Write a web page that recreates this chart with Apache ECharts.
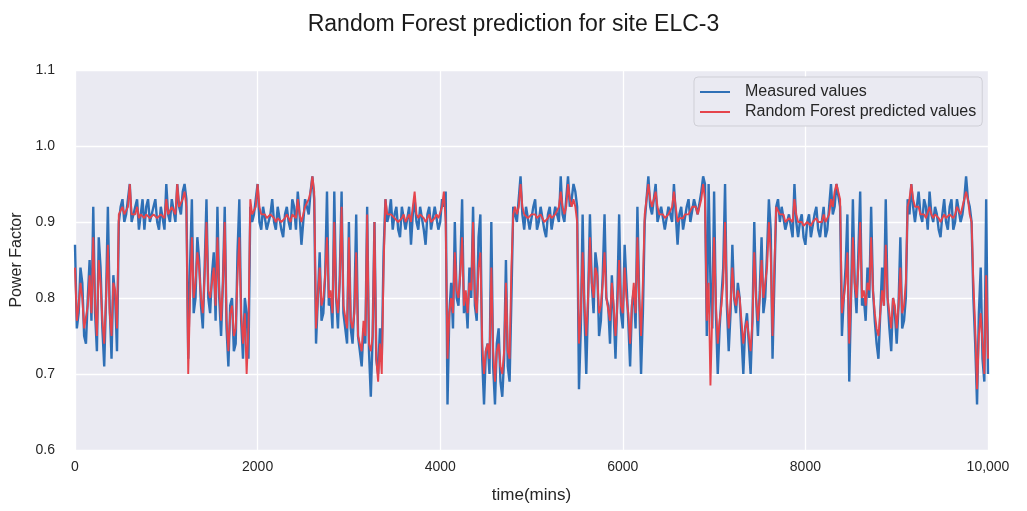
<!DOCTYPE html>
<html>
<head>
<meta charset="utf-8">
<script src="https://cdn.jsdelivr.net/npm/echarts@6/dist/echarts.min.js"></script>
<style>
  html, body { margin: 0; padding: 0; background: #fff; }
  #chart { width: 1027px; height: 511px; }
</style>
</head>
<body>
<div id="chart"></div>
<script>
// one reading every 20 minutes, 0 .. 10000 (one line per low / high stretch)
var timeStep = 20;

var measuredValues = [
  0.87, 0.76, 0.78, 0.84, 0.82, 0.75, 0.74, 0.80, 0.85, 0.77, 0.92, 0.78, 0.73, 0.88, 0.84, 0.76, 0.71, 0.80, 0.92, 0.79, 0.72, 0.83, 0.80, 0.73,
  0.90, 0.92, 0.93, 0.90, 0.91, 0.93, 0.95, 0.90, 0.90, 0.92, 0.93, 0.89, 0.91, 0.93, 0.89, 0.92, 0.93, 0.90, 0.90, 0.92, 0.93, 0.90, 0.89, 0.92, 0.92, 0.89, 0.95, 0.91, 0.90, 0.93, 0.93, 0.90, 0.95, 0.92, 0.91, 0.94, 0.95, 0.93,
  0.72, 0.84, 0.93, 0.78, 0.80, 0.88, 0.85, 0.79, 0.76, 0.84, 0.93, 0.80, 0.78, 0.83, 0.86, 0.77, 0.92, 0.80, 0.75, 0.82, 0.92, 0.76, 0.71, 0.79, 0.80, 0.73, 0.74, 0.86, 0.93, 0.77, 0.72, 0.80, 0.78, 0.72,
  0.92, 0.90, 0.91, 0.93, 0.95, 0.90, 0.89, 0.92, 0.92, 0.89, 0.89, 0.91, 0.93, 0.90, 0.89, 0.92, 0.92, 0.89, 0.88, 0.91, 0.92, 0.90, 0.89, 0.93, 0.92, 0.89, 0.94, 0.91, 0.87, 0.90, 0.93, 0.92, 0.91, 0.94, 0.96, 0.93,
  0.74, 0.80, 0.86, 0.77, 0.78, 0.83, 0.94, 0.79, 0.80, 0.76, 0.94, 0.80, 0.76, 0.83, 0.94, 0.78, 0.78, 0.74, 0.90, 0.76, 0.74, 0.79, 0.91, 0.75, 0.73, 0.71, 0.76, 0.74, 0.92, 0.73, 0.67, 0.75, 0.90, 0.72, 0.70, 0.76, 0.72, 0.86,
  0.93, 0.90, 0.91, 0.93, 0.89, 0.91, 0.92, 0.89, 0.88, 0.92, 0.92, 0.89, 0.89, 0.92, 0.87, 0.91, 0.93, 0.90, 0.89, 0.92, 0.92, 0.89, 0.87, 0.91, 0.92, 0.89, 0.89, 0.92, 0.92, 0.89, 0.90, 0.93, 0.92, 0.94,
  0.66, 0.78, 0.82, 0.76, 0.90, 0.80, 0.79, 0.84, 0.93, 0.78, 0.80, 0.76, 0.84, 0.80, 0.92, 0.79, 0.77, 0.88, 0.91, 0.72, 0.66, 0.73, 0.74, 0.70, 0.90, 0.71, 0.66, 0.74, 0.76, 0.69, 0.67, 0.72, 0.85, 0.71, 0.69, 0.80,
  0.92, 0.91, 0.90, 0.93, 0.96, 0.91, 0.89, 0.92, 0.92, 0.89, 0.89, 0.92, 0.93, 0.89, 0.90, 0.92, 0.92, 0.89, 0.88, 0.91, 0.92, 0.89, 0.89, 0.92, 0.92, 0.90, 0.96, 0.91, 0.90, 0.93, 0.96, 0.92, 0.93, 0.95, 0.94, 0.92,
  0.68, 0.76, 0.91, 0.78, 0.70, 0.80, 0.91, 0.82, 0.78, 0.86, 0.84, 0.75, 0.77, 0.83, 0.91, 0.80, 0.79, 0.74, 0.83, 0.78, 0.72, 0.80, 0.91, 0.78, 0.76, 0.87, 0.82, 0.77, 0.71, 0.79, 0.81, 0.76, 0.92, 0.80, 0.70, 0.78,
  0.90, 0.93, 0.96, 0.92, 0.91, 0.93, 0.95, 0.90, 0.90, 0.92, 0.92, 0.89, 0.89, 0.92, 0.92, 0.90, 0.95, 0.91, 0.87, 0.91, 0.92, 0.89, 0.89, 0.92, 0.93, 0.90, 0.90, 0.93, 0.93, 0.91, 0.91, 0.94, 0.96, 0.95,
  0.75, 0.95, 0.82, 0.76, 0.94, 0.78, 0.70, 0.76, 0.80, 0.84, 0.95, 0.79, 0.73, 0.78, 0.87, 0.80, 0.78, 0.82, 0.80, 0.75, 0.70, 0.76, 0.78, 0.74, 0.70, 0.77, 0.90, 0.80, 0.75, 0.81, 0.88, 0.78, 0.80, 0.86, 0.93, 0.89, 0.72, 0.82,
  0.92, 0.93, 0.90, 0.92, 0.92, 0.89, 0.89, 0.91, 0.91, 0.88, 0.95, 0.90, 0.88, 0.90, 0.91, 0.88, 0.87, 0.90, 0.91, 0.88, 0.88, 0.91, 0.92, 0.89, 0.88, 0.90, 0.92, 0.88, 0.89, 0.92, 0.95, 0.91, 0.92, 0.95, 0.95, 0.92,
  0.75, 0.80, 0.84, 0.91, 0.69, 0.80, 0.93, 0.82, 0.78, 0.86, 0.94, 0.79, 0.80, 0.77, 0.84, 0.80, 0.92, 0.81, 0.77, 0.74, 0.72, 0.78, 0.84, 0.79, 0.93, 0.80, 0.76, 0.73, 0.80, 0.78, 0.74, 0.79, 0.88, 0.76, 0.77, 0.80,
  0.93, 0.91, 0.95, 0.92, 0.90, 0.92, 0.94, 0.91, 0.90, 0.93, 0.92, 0.89, 0.94, 0.91, 0.90, 0.92, 0.91, 0.89, 0.88, 0.91, 0.93, 0.90, 0.89, 0.92, 0.93, 0.89, 0.90, 0.93, 0.93, 0.90, 0.91, 0.93, 0.96, 0.93, 0.92, 0.90,
  0.80, 0.74, 0.66, 0.78, 0.84, 0.72, 0.69, 0.93, 0.70
];

var predictedValues = [
  0.84, 0.77, 0.79, 0.82, 0.80, 0.76, 0.76, 0.79, 0.83, 0.78, 0.88, 0.79, 0.75, 0.85, 0.82, 0.77, 0.74, 0.80, 0.87, 0.78, 0.75, 0.82, 0.81, 0.76,
  0.91, 0.91, 0.92, 0.91, 0.91, 0.92, 0.95, 0.91, 0.91, 0.91, 0.92, 0.905, 0.91, 0.91, 0.905, 0.91, 0.91, 0.905, 0.905, 0.91, 0.91, 0.905, 0.905, 0.91, 0.91, 0.905, 0.93, 0.91, 0.91, 0.92, 0.92, 0.91, 0.95, 0.92, 0.92, 0.93, 0.94, 0.92,
  0.70, 0.80, 0.88, 0.80, 0.82, 0.86, 0.84, 0.80, 0.78, 0.83, 0.90, 0.81, 0.80, 0.82, 0.84, 0.79, 0.88, 0.81, 0.77, 0.82, 0.90, 0.77, 0.73, 0.78, 0.79, 0.75, 0.76, 0.83, 0.88, 0.78, 0.74, 0.78, 0.70, 0.76,
  0.93, 0.91, 0.91, 0.92, 0.95, 0.92, 0.91, 0.91, 0.91, 0.905, 0.905, 0.91, 0.91, 0.905, 0.90, 0.905, 0.905, 0.90, 0.90, 0.905, 0.91, 0.905, 0.90, 0.91, 0.91, 0.905, 0.93, 0.91, 0.90, 0.91, 0.92, 0.92, 0.93, 0.94, 0.96, 0.94,
  0.76, 0.80, 0.84, 0.79, 0.80, 0.83, 0.88, 0.80, 0.81, 0.78, 0.90, 0.80, 0.78, 0.82, 0.92, 0.79, 0.79, 0.76, 0.88, 0.77, 0.76, 0.78, 0.86, 0.75, 0.74, 0.73, 0.77, 0.75, 0.91, 0.74, 0.73, 0.75, 0.90, 0.72, 0.69, 0.74, 0.70, 0.84,
  0.93, 0.91, 0.91, 0.91, 0.91, 0.905, 0.905, 0.90, 0.90, 0.905, 0.91, 0.90, 0.90, 0.91, 0.90, 0.92, 0.94, 0.91, 0.905, 0.91, 0.91, 0.905, 0.90, 0.905, 0.91, 0.90, 0.90, 0.905, 0.91, 0.905, 0.905, 0.92, 0.94, 0.90,
  0.72, 0.78, 0.80, 0.78, 0.86, 0.81, 0.80, 0.83, 0.88, 0.79, 0.81, 0.78, 0.82, 0.81, 0.90, 0.80, 0.78, 0.84, 0.86, 0.74, 0.70, 0.73, 0.74, 0.72, 0.84, 0.73, 0.69, 0.73, 0.74, 0.71, 0.70, 0.73, 0.82, 0.73, 0.72, 0.84,
  0.91, 0.92, 0.91, 0.92, 0.95, 0.92, 0.91, 0.91, 0.905, 0.905, 0.91, 0.91, 0.91, 0.905, 0.905, 0.91, 0.91, 0.90, 0.90, 0.905, 0.91, 0.905, 0.905, 0.91, 0.91, 0.92, 0.94, 0.92, 0.91, 0.92, 0.95, 0.93, 0.92, 0.93, 0.92, 0.90,
  0.74, 0.78, 0.86, 0.79, 0.75, 0.80, 0.88, 0.82, 0.80, 0.84, 0.83, 0.78, 0.79, 0.82, 0.86, 0.80, 0.80, 0.77, 0.82, 0.79, 0.75, 0.79, 0.85, 0.79, 0.78, 0.84, 0.80, 0.78, 0.74, 0.79, 0.82, 0.78, 0.88, 0.80, 0.75, 0.82,
  0.91, 0.93, 0.95, 0.93, 0.92, 0.92, 0.94, 0.92, 0.91, 0.91, 0.91, 0.905, 0.905, 0.91, 0.91, 0.92, 0.94, 0.92, 0.90, 0.905, 0.905, 0.905, 0.91, 0.91, 0.91, 0.91, 0.92, 0.92, 0.92, 0.91, 0.92, 0.93, 0.95, 0.93,
  0.77, 0.82, 0.685, 0.78, 0.88, 0.79, 0.74, 0.77, 0.79, 0.82, 0.90, 0.80, 0.76, 0.79, 0.84, 0.80, 0.79, 0.81, 0.80, 0.77, 0.74, 0.76, 0.77, 0.75, 0.73, 0.77, 0.86, 0.80, 0.77, 0.80, 0.85, 0.80, 0.80, 0.84, 0.90, 0.86, 0.75, 0.84,
  0.92, 0.92, 0.91, 0.91, 0.91, 0.90, 0.90, 0.905, 0.905, 0.90, 0.93, 0.91, 0.90, 0.90, 0.90, 0.895, 0.895, 0.90, 0.90, 0.895, 0.90, 0.90, 0.905, 0.90, 0.90, 0.90, 0.91, 0.90, 0.905, 0.91, 0.93, 0.92, 0.94, 0.95, 0.95, 0.93,
  0.78, 0.80, 0.82, 0.86, 0.74, 0.80, 0.88, 0.82, 0.80, 0.84, 0.90, 0.80, 0.81, 0.79, 0.82, 0.81, 0.88, 0.81, 0.78, 0.76, 0.75, 0.78, 0.81, 0.79, 0.87, 0.80, 0.78, 0.76, 0.80, 0.79, 0.76, 0.79, 0.84, 0.78, 0.79, 0.82,
  0.92, 0.93, 0.95, 0.93, 0.92, 0.92, 0.92, 0.91, 0.91, 0.91, 0.905, 0.905, 0.92, 0.91, 0.905, 0.91, 0.91, 0.905, 0.90, 0.905, 0.91, 0.905, 0.905, 0.91, 0.91, 0.905, 0.91, 0.92, 0.92, 0.91, 0.92, 0.93, 0.94, 0.93, 0.91, 0.90,
  0.82, 0.76, 0.68, 0.75, 0.78, 0.74, 0.70, 0.83, 0.72
];

var seriesNames = ['Measured values', 'Random Forest predicted values'];
var xTicks = [0, 2000, 4000, 6000, 8000, 10000];

function toPairs(values) {
  var out = [];
  for (var i = 0; i < values.length; i++) {
    out.push([i * timeStep, values[i]]);
  }
  return out;
}

var chartDom = document.getElementById('chart');
var myChart = echarts.init(chartDom, null, { renderer: 'canvas' });
var option;

var font = 'Liberation Sans, Arial, sans-serif';

option = {
  animation: false,
  backgroundColor: '#ffffff',
  textStyle: { fontFamily: font },
  title: {
    text: 'Random Forest prediction for site ELC-3',
    left: 'center',
    top: 8,
    textStyle: { fontSize: 23, fontWeight: 'normal', color: '#1a1a1a', fontFamily: font }
  },
  legend: {
    orient: 'vertical',
    left: 694,
    top: 77,
    padding: [7, 6, 6, 6],
    itemGap: 4,
    icon: 'rect',
    itemWidth: 30,
    itemHeight: 2,
    backgroundColor: '#EAEAF2',
    borderColor: '#cfcfd6',
    borderWidth: 1,
    borderRadius: 4,
    textStyle: { fontSize: 16, color: '#262626', fontFamily: font, padding: [0, 0, 0, 10] },
    data: seriesNames
  },
  grid: {
    left: 75,
    right: 39,
    top: 70,
    bottom: 61,
    show: true,
    backgroundColor: '#EAEAF2',
    borderWidth: 0
  },
  xAxis: {
    type: 'value',
    min: 0,
    max: 10000,
    interval: 2000,
    name: 'time(mins)',
    nameLocation: 'middle',
    nameGap: 37,
    nameTextStyle: { fontSize: 17, color: '#262626' },
    axisLine: { show: false },
    axisTick: { show: false },
    axisLabel: {
      fontSize: 14,
      color: '#262626',
      margin: 10,
      formatter: function (v) {
        return v === xTicks[xTicks.length - 1] ? '10,000' : String(v);
      }
    },
    splitLine: { show: true, lineStyle: { color: '#ffffff', width: 1.3 } }
  },
  yAxis: {
    type: 'value',
    min: 0.6,
    max: 1.1,
    interval: 0.1,
    name: 'Power Factor',
    nameLocation: 'middle',
    nameGap: 47,
    nameTextStyle: { fontSize: 16, color: '#262626' },
    axisLine: { show: false },
    axisTick: { show: false },
    axisLabel: {
      fontSize: 14,
      color: '#262626',
      margin: 20,
      formatter: function (v) { return v.toFixed(1); }
    },
    splitLine: { show: true, lineStyle: { color: '#ffffff', width: 1.3 } }
  },
  series: [
    {
      name: seriesNames[0],
      type: 'line',
      showSymbol: false,
      symbol: 'none',
      color: '#2F70B6',
      lineStyle: { width: 2.4, color: '#2F70B6' },
      data: toPairs(measuredValues)
    },
    {
      name: seriesNames[1],
      type: 'line',
      showSymbol: false,
      symbol: 'none',
      color: '#E5444C',
      lineStyle: { width: 1.9, color: '#E5444C' },
      data: toPairs(predictedValues)
    }
  ]
};

option && myChart.setOption(option);
</script>
</body>
</html>
